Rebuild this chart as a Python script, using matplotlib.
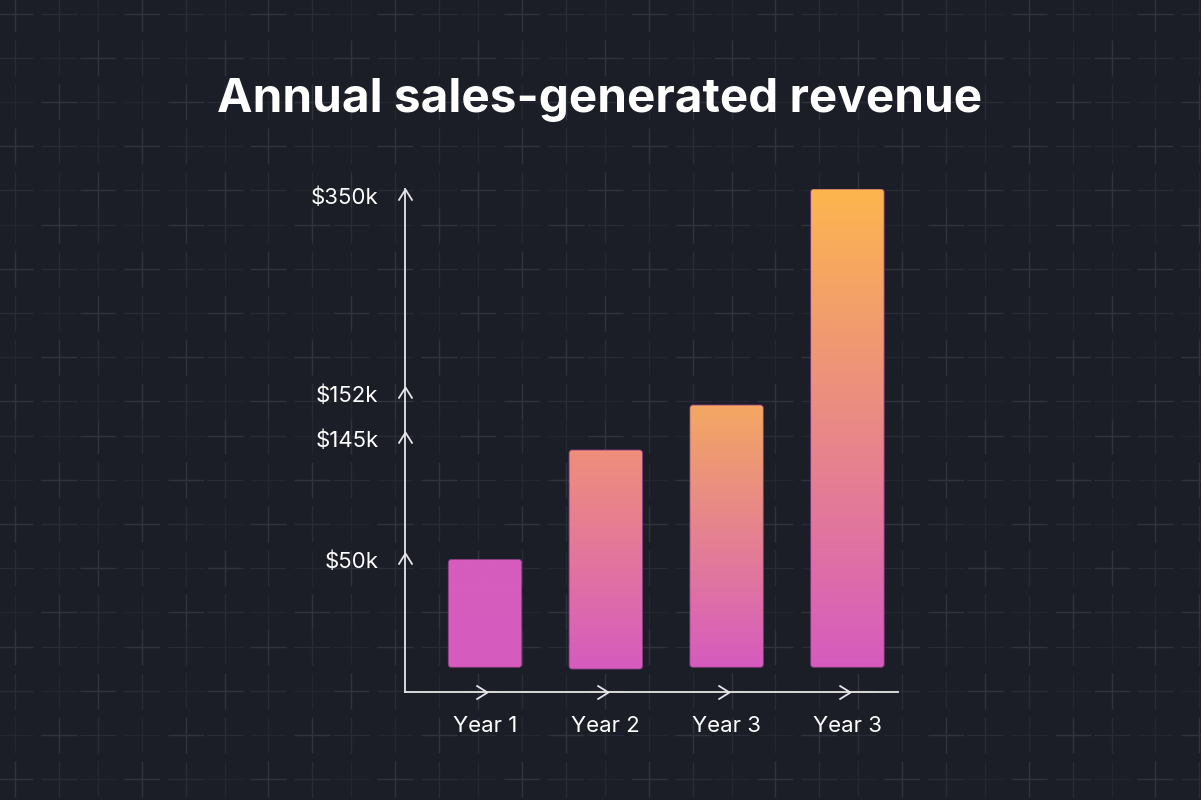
import numpy as np
import matplotlib
matplotlib.use("Agg")
import matplotlib.pyplot as plt
from matplotlib.collections import LineCollection
from matplotlib.patches import FancyBboxPatch
from matplotlib.path import Path
from matplotlib.colors import to_rgb
from matplotlib.transforms import ScaledTranslation

# values. the original y axis is not drawn to scale,
# so bar heights / tick spots are in the chart's own drawn units (0 = x axis)
years = ["Year 1", "Year 2", "Year 3", "Year 3"]
bar_top = [132.5, 242, 287, 503]
bar_bottom = [24.7, 23, 24.7, 24.7]
tick_labels = ["$50k", "$145k", "$152k", "$350k"]
tick_pos = [139, 260, 305, 503]

# each bar fades from its own top colour down to magenta
top_colors = ["#d65dbd", "#ef8f7b", "#f4a862", "#fdb64e"]
bottom_color = "#d65bbf"

BG = "#1b1e27"
AXIS = "#e6e6ea"

plt.rcParams["font.family"] = ["Inter", "DejaVu Sans"]

fig = plt.figure(figsize=(12.01, 8), dpi=100, facecolor=BG)

# ---- background: faint grid of little crosses ----
bg = fig.add_axes([0, 0, 1, 1])
bg.set_xlim(0, 1201)
bg.set_ylim(800, 0)
bg.axis("off")
gx = np.array([15 + 126.7 * k + o for k in range(-1, 10) for o in (0, 44, 83)])
gy = np.array([190 + 211 * k + o for k in range(-1, 4) for o in (0, 35, 79, 123, 167)])
shades = ["#24272f", "#292c36", "#30333e"]
segs, cols = [], []
for i in range(1, len(gx) - 1):
    for j in range(1, len(gy) - 1):
        c = shades[(i * 2 + j * 5) % 3]
        segs.append([(gx[i] - min(18, (gx[i] - gx[i - 1]) / 2), gy[j]),
                     (gx[i] + min(18, (gx[i + 1] - gx[i]) / 2), gy[j])])
        segs.append([(gx[i], gy[j] - min(18, (gy[j] - gy[j - 1]) / 2)),
                     (gx[i], gy[j] + min(18, (gy[j + 1] - gy[j]) / 2))])
        cols += [c, c]
bg.add_collection(LineCollection(segs, colors=cols, linewidths=1.0))

# ---- chart area ----
L, R, B, T = 405, 898, 692, 189
step = 120.8  # px between bar centres
ax = fig.add_axes([L / 1201, (800 - B) / 800, (R - L) / 1201, (B - T) / 800])
ax.set_facecolor("none")
x = np.arange(len(years))

heights = np.array(bar_top) - np.array(bar_bottom)
bars = ax.bar(x, heights, bottom=bar_bottom, width=0.608, color="none", edgecolor="none")
t = np.linspace(0, 1, 256)[:, None]
for rect, ctop in zip(bars, top_colors):
    x0, y0 = rect.get_x(), rect.get_y()
    w, h = rect.get_width(), rect.get_height()
    grad = (1 - t) * np.array(to_rgb(bottom_color)) + t * np.array(to_rgb(ctop))
    shape = FancyBboxPatch((x0, y0), w, h, boxstyle="round,pad=0,rounding_size=0.025",
                           mutation_aspect=step, facecolor="none",
                           edgecolor="#8c3f82", lw=0.6, zorder=3)
    ax.add_patch(shape)
    im = ax.imshow(grad[:, None, :], extent=(x0, x0 + w, y0, y0 + h), origin="lower",
                   aspect="auto", interpolation="bilinear", zorder=2)
    im.set_clip_path(shape)

ax.set_xlim((L - 485) / step, (R - 485) / step)
ax.set_ylim(0, B - T)

for side in ["top", "right"]:
    ax.spines[side].set_visible(False)
for side in ["left", "bottom"]:
    ax.spines[side].set_color(AXIS)
    ax.spines[side].set_linewidth(1.3)

# open chevrons as arrow ticks
up = Path([(-1, -1.6), (0, 0), (1, -1.6)], [Path.MOVETO, Path.LINETO, Path.LINETO])
right = Path([(-1.6, 1), (0, 0), (-1.6, -1)], [Path.MOVETO, Path.LINETO, Path.LINETO])
xl0 = ax.get_xlim()[0]
ax.plot(np.full(len(tick_pos), xl0), tick_pos, ls="none", marker=up, ms=16,
        mfc="none", mec=AXIS, mew=1.3, clip_on=False, zorder=4)
ax.plot(x + 0.02, np.zeros(len(x)), ls="none", marker=right, ms=16,
        mfc="none", mec=AXIS, mew=1.3, clip_on=False, zorder=4)

ax.set_yticks(tick_pos, tick_labels)
ax.set_xticks(x, years)
ax.tick_params(length=0, colors="white", labelsize=16)
ax.tick_params(axis="y", pad=19)
ax.tick_params(axis="x", pad=17.5)
for lab in ax.get_yticklabels():
    lab.set_transform(lab.get_transform() + ScaledTranslation(0, -6.5 / 100, fig.dpi_scale_trans))

fig.text(0.4996, 1 - 111.7 / 800, "Annual sales-generated revenue", ha="center",
         va="baseline", color="white", fontsize=34.3, fontweight="bold")

fig.savefig("out.png", dpi=100, facecolor=BG)
